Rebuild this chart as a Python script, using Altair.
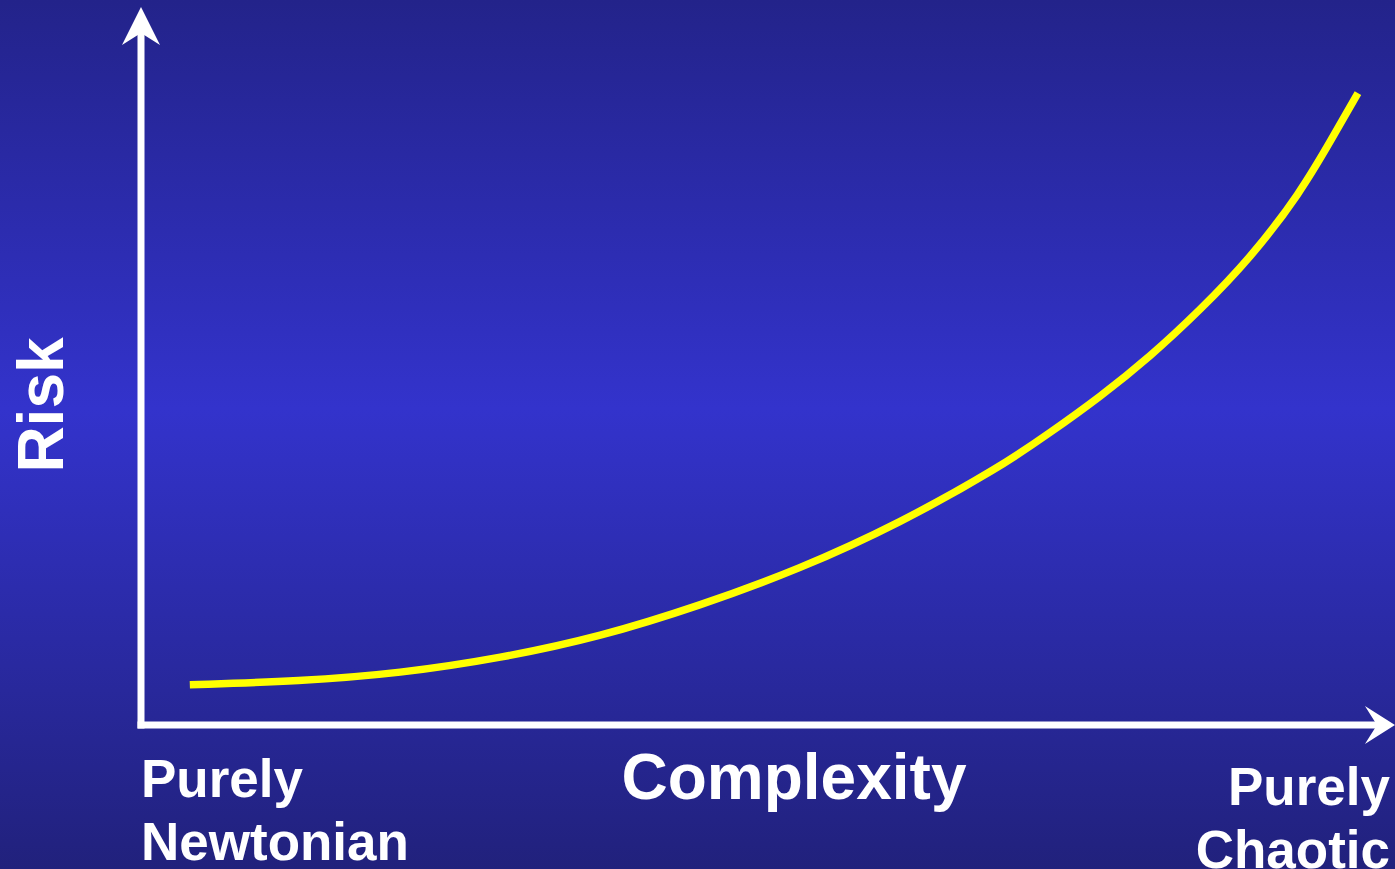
import altair as alt
import pandas as pd

# Risk vs. complexity curve (arbitrary units, 0-10 on both axes)
complexity = [0.39, 1.27, 2.07, 2.87, 3.67, 4.46, 5.26, 6.06, 6.86, 7.26, 7.66, 8.06, 8.46, 8.86, 9.26, 9.52, 9.72]
risk = [0.56, 0.61, 0.72, 0.93, 1.23, 1.66, 2.17, 2.81, 3.59, 4.07, 4.57, 5.13, 5.78, 6.50, 7.41, 8.19, 8.80]

W, H = 1395, 869
xs = alt.Scale(domain=[0, 10], range=[141, 1393], nice=False, zero=False)
ys = alt.Scale(domain=[0, 10], range=[725, 7], nice=False, zero=False)

curve_df = pd.DataFrame({"complexity": complexity, "risk": risk})
one = pd.DataFrame({"k": [0]})

# slide-style vertical gradient background
background = alt.Chart(one).mark_rect(
    color=alt.LinearGradient(
        gradient="linear",
        x1=0, x2=0, y1=0, y2=1,
        stops=[
            alt.GradientStop(color="#23238a", offset=0),
            alt.GradientStop(color="#3333cc", offset=0.47),
            alt.GradientStop(color="#21217c", offset=1),
        ],
    )
).encode(x=alt.value(0), x2=alt.value(W), y=alt.value(0), y2=alt.value(H))

# axis shafts
axes_df = pd.DataFrame({
    "x": [0, 0], "x2": [0, 9.87],
    "y": [0, 0], "y2": [9.64, 0],
})
shafts = alt.Chart(axes_df).mark_rule(
    color="white", strokeWidth=7, strokeCap="square"
).encode(
    x=alt.X("x:Q", scale=xs, axis=None),
    x2="x2:Q",
    y=alt.Y("y:Q", scale=ys, axis=None),
    y2="y2:Q",
)

# arrow heads
up_df = pd.DataFrame({"x": [0], "y": [9.735]})
up_head = alt.Chart(up_df).mark_point(
    shape="M0,-1L1,1L0,0.37L-1,1Z", size=1444, filled=True,
    color="white", opacity=1, strokeWidth=0,
).encode(x=alt.X("x:Q", scale=xs, axis=None), y=alt.Y("y:Q", scale=ys, axis=None))

right_df = pd.DataFrame({"x": [9.864], "y": [0]})
right_head = alt.Chart(right_df).mark_point(
    shape="M1,0L-0.58,-1L0.05,0L-0.58,1Z", size=1444, filled=True,
    color="white", opacity=1, strokeWidth=0,
).encode(x=alt.X("x:Q", scale=xs, axis=None), y=alt.Y("y:Q", scale=ys, axis=None))

curve = alt.Chart(curve_df).mark_line(
    color="#ffff00", strokeWidth=7.5, interpolate="basis", strokeCap="butt"
).encode(
    x=alt.X("complexity:Q", scale=xs, axis=None),
    y=alt.Y("risk:Q", scale=ys, axis=None),
)

FONT = "Liberation Sans"

def label(text, x, y, size, align="left", angle=0):
    return alt.Chart(one).mark_text(
        text=text, font=FONT, fontWeight="bold", fontSize=size, color="white",
        align=align, baseline="alphabetic", angle=angle,
    ).encode(x=alt.value(x), y=alt.value(y))

labels = [
    label("Complexity", 794, 799, 64, align="center"),
    label("Purely", 141, 797, 53),
    label("Newtonian", 141, 860, 53),
    label("Purely", 1390, 805, 53, align="right"),
    label("Chaotic", 1390, 868, 53, align="right"),
    label("Risk", 63, 405, 64, align="center", angle=270),
]

chart = alt.layer(background, shafts, up_head, right_head, curve, *labels).properties(
    width=W, height=H, padding=0, autosize=alt.AutoSizeParams(type="none")
).configure_view(stroke=None).configure(background="#2a2aa8")

chart.save("out.html", embed_options={"renderer": "svg", "actions": False})
